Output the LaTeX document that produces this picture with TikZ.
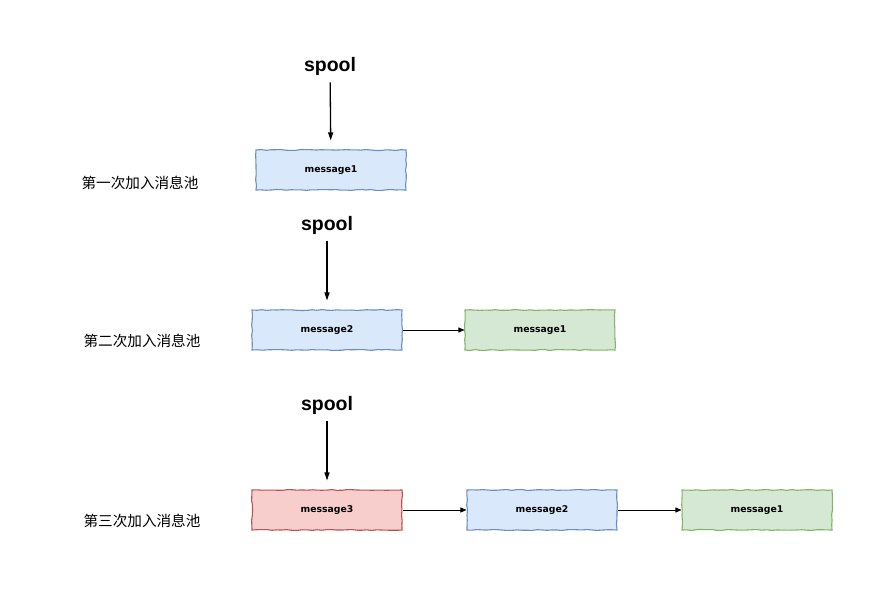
\documentclass[tikz,border=0pt]{standalone}
\usepackage{fontspec}
\setmainfont{Liberation Sans}
\newfontfamily\msgfont{DejaVu Sans}
\newfontfamily\cjk{Noto Sans CJK SC}
\usetikzlibrary{arrows.meta,decorations.pathmorphing}

\begin{document}
\begin{tikzpicture}[x=1pt,y=-1pt,
  msgnode/.style={rectangle,draw,minimum width=150,minimum height=40,inner sep=0,line width=1.1pt,
    font=\msgfont\bfseries\fontsize{9.3}{10}\selectfont,
    decorate,decoration={random steps,segment length=5pt,amplitude=0.5pt}},
  spoolnode/.style={font=\bfseries\fontsize{19.5}{21}\selectfont,inner sep=1pt},
  stepnode/.style={font=\cjk\fontsize{14.6}{16}\selectfont},
  pushline/.style={line width=1.3pt,-{Triangle[length=8pt,width=5pt]},shorten <=6pt,shorten >=9pt},
  linkline/.style={line width=0.8pt,-{Triangle[length=6pt,width=5pt]}}]
\pgfmathsetseed{7}
\definecolor{bluefill}{HTML}{DAE8FC}
\definecolor{bluedraw}{HTML}{6C8EBF}
\definecolor{greenfill}{HTML}{D5E8D4}
\definecolor{greendraw}{HTML}{82B366}
\definecolor{redfill}{HTML}{F8CECC}
\definecolor{reddraw}{HTML}{B85450}
\useasboundingbox (0,0) rectangle (883,591);
% first push
\node [spoolnode] (spoolA) at (330,66) {spool};
\node [msgnode,fill=bluefill,draw=bluedraw] (msgA1) at (331,170) {message1};
\node [stepnode] (stepA) at (140,183) {第一次加入消息池};
\draw [pushline] (spoolA) -- (msgA1);
% second push
\node [spoolnode] (spoolB) at (327,225) {spool};
\node [msgnode,fill=bluefill,draw=bluedraw] (msgB2) at (327,330) {message2};
\node [msgnode,fill=greenfill,draw=greendraw] (msgB1) at (540,330) {message1};
\node [stepnode] (stepB) at (142,341) {第二次加入消息池};
\draw [pushline] (spoolB) -- (msgB2);
\draw [linkline] (msgB2) -- (msgB1);
% third push
\node [spoolnode] (spoolC) at (327,405) {spool};
\node [msgnode,fill=redfill,draw=reddraw] (msgC3) at (327,510) {message3};
\node [msgnode,fill=bluefill,draw=bluedraw] (msgC2) at (542,510) {message2};
\node [msgnode,fill=greenfill,draw=greendraw] (msgC1) at (757,510) {message1};
\node [stepnode] (stepC) at (142,521) {第三次加入消息池};
\draw [pushline] (spoolC) -- (msgC3);
\draw [linkline] (msgC3) -- (msgC2);
\draw [linkline] (msgC2) -- (msgC1);
\end{tikzpicture}
\end{document}
